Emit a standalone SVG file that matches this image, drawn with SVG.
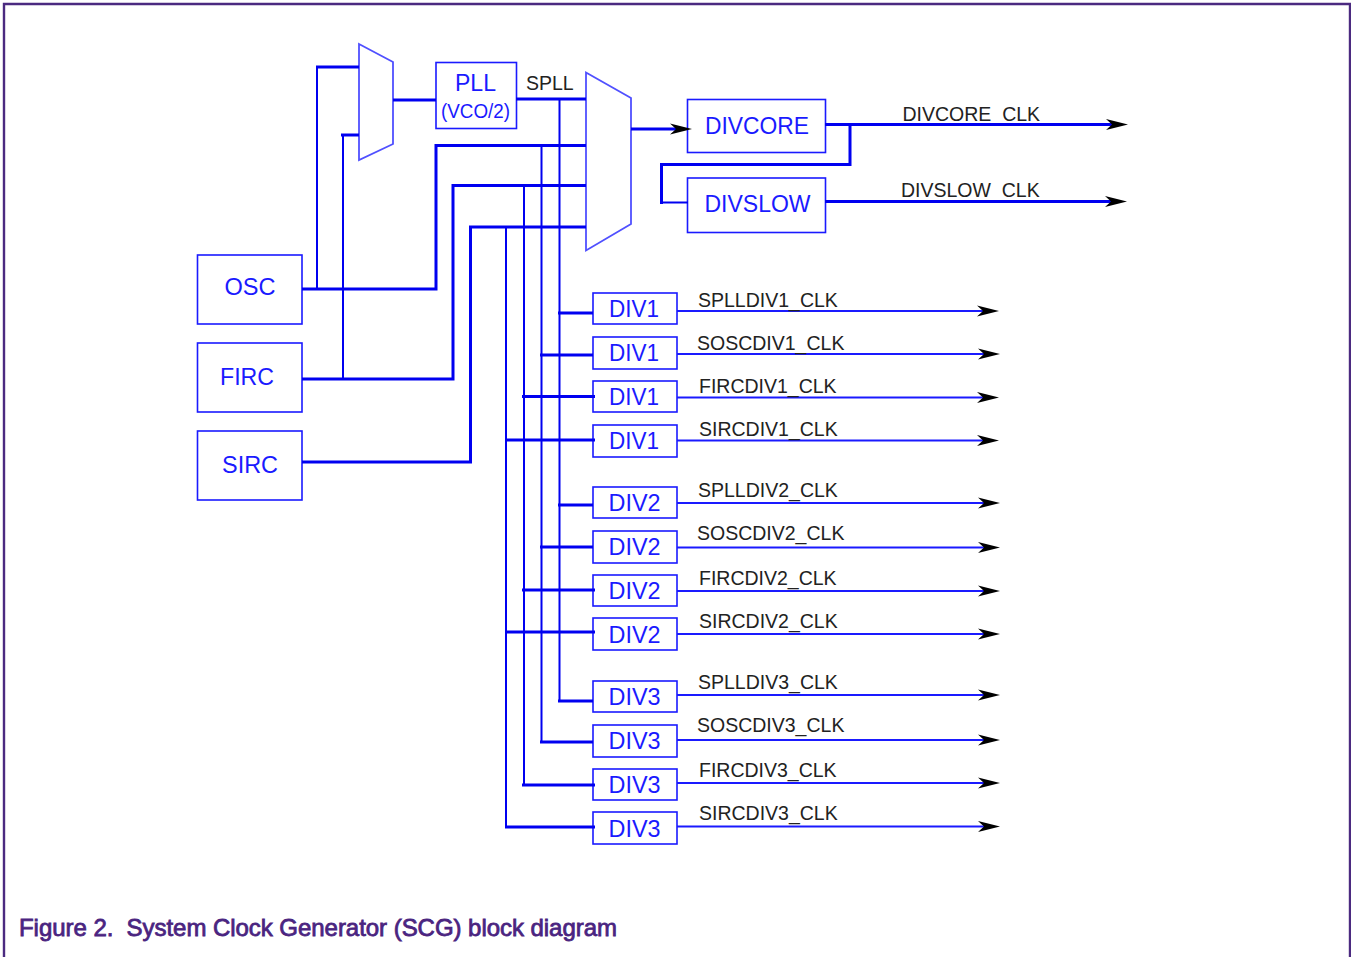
<svg xmlns="http://www.w3.org/2000/svg" width="1351" height="957" viewBox="0 0 1351 957">
<style>
.box{fill:#fff;stroke:#1a1aff;stroke-width:1.6}
.mux{fill:#fff;stroke:#5050ff;stroke-width:1.8}
.w{fill:none;stroke:#0000f0;stroke-width:2}
.t{fill:none;stroke:#0000f0;stroke-width:3}
.o{fill:none;stroke:#1a1aff;stroke-width:2}
.a{marker-end:url(#ah)}
text{font-family:"Liberation Sans",Arial,sans-serif}
.n{fill:#1a1aff;font-size:24.5px;text-anchor:middle}
.l{fill:#222;font-size:19.5px}
</style>
<defs>
<marker id="ah" markerUnits="userSpaceOnUse" markerWidth="24" markerHeight="12" refX="12" refY="6" orient="auto">
<path d="M0,0.5 L22,6 L0,11.500 L6,6 Z" fill="#000"/>
</marker>
</defs>
<rect width="1351" height="957" fill="#fff"/>
<path d="M4,957 V4 H1350 V957" fill="none" stroke="#4b2a80" stroke-width="2.4"/>

<g id="mux1"><polygon class="mux" points="359,44 393,62 393,144 359,160"/></g>
<g id="mux2"><polygon class="mux" points="586,72.5 631,98 631,224 586,250.5"/></g>
<g id="pll"><rect class="box" x="436" y="62.5" width="80.5" height="66"/>
<text class="n" x="475.5" y="90.500" textLength="41" lengthAdjust="spacingAndGlyphs">PLL</text><text x="475.5" y="118" style="fill:#1a1aff;font-size:20px;text-anchor:middle" textLength="69" lengthAdjust="spacingAndGlyphs">(VCO/2)</text></g>
<text class="l" x="526" y="90">SPLL</text>
<g id="osc"><rect class="box" x="197.5" y="255" width="104.5" height="69"/><text class="n" x="250" y="295" textLength="51" lengthAdjust="spacingAndGlyphs">OSC</text></g>
<g id="firc"><rect class="box" x="197.5" y="343" width="104.5" height="69"/><text class="n" x="247" y="385" textLength="54" lengthAdjust="spacingAndGlyphs">FIRC</text></g>
<g id="sirc"><rect class="box" x="197.5" y="431" width="104.5" height="69"/><text class="n" x="250" y="473" textLength="56" lengthAdjust="spacingAndGlyphs">SIRC</text></g>
<g id="divcore"><rect class="box" x="687.5" y="99.5" width="138" height="53"/><text class="n" x="757" y="133.500" textLength="104" lengthAdjust="spacingAndGlyphs">DIVCORE</text></g>
<g id="divslow"><rect class="box" x="687.5" y="178" width="138" height="54.5"/><text class="n" x="757.5" y="212" textLength="106" lengthAdjust="spacingAndGlyphs">DIVSLOW</text></g>
<text class="l" x="902.500" y="121">DIVCORE_CLK</text>
<text class="l" x="901" y="196.500">DIVSLOW_CLK</text>

<g id="div1a"><rect class="box" x="593" y="293" width="84" height="31"/><text class="n" x="634" y="316.500" textLength="50" lengthAdjust="spacingAndGlyphs">DIV1</text></g>
<g id="div1b"><rect class="box" x="593" y="337" width="84" height="32"/><text class="n" x="634" y="360.500" textLength="50" lengthAdjust="spacingAndGlyphs">DIV1</text></g>
<g id="div1c"><rect class="box" x="593" y="381" width="84" height="31"/><text class="n" x="634" y="404.500" textLength="50" lengthAdjust="spacingAndGlyphs">DIV1</text></g>
<g id="div1d"><rect class="box" x="593" y="425" width="84" height="32"/><text class="n" x="634" y="448.500" textLength="50" lengthAdjust="spacingAndGlyphs">DIV1</text></g>
<g id="div2a"><rect class="box" x="593" y="487" width="84" height="31"/><text class="n" x="634.500" y="510.500" textLength="52" lengthAdjust="spacingAndGlyphs">DIV2</text></g>
<g id="div2b"><rect class="box" x="593" y="531" width="84" height="32"/><text class="n" x="634.500" y="554.500" textLength="52" lengthAdjust="spacingAndGlyphs">DIV2</text></g>
<g id="div2c"><rect class="box" x="593" y="575" width="84" height="31"/><text class="n" x="634.500" y="598.500" textLength="52" lengthAdjust="spacingAndGlyphs">DIV2</text></g>
<g id="div2d"><rect class="box" x="593" y="618" width="84" height="32"/><text class="n" x="634.500" y="642.500" textLength="52" lengthAdjust="spacingAndGlyphs">DIV2</text></g>
<g id="div3a"><rect class="box" x="593" y="681" width="84" height="31"/><text class="n" x="634.500" y="704.500" textLength="52" lengthAdjust="spacingAndGlyphs">DIV3</text></g>
<g id="div3b"><rect class="box" x="593" y="725" width="84" height="32"/><text class="n" x="634.500" y="748.500" textLength="52" lengthAdjust="spacingAndGlyphs">DIV3</text></g>
<g id="div3c"><rect class="box" x="593" y="769" width="84" height="31"/><text class="n" x="634.500" y="792.500" textLength="52" lengthAdjust="spacingAndGlyphs">DIV3</text></g>
<g id="div3d"><rect class="box" x="593" y="812" width="84" height="32"/><text class="n" x="634.500" y="836.500" textLength="52" lengthAdjust="spacingAndGlyphs">DIV3</text></g>

<g id="connectors">
<path class="t" d="M302,289 H436 V145.5 H586"/>
<path class="w" d="M317,289 V67"/><path class="t" d="M316,67 H359"/>
<path class="w" d="M343,379 V135"/><path class="t" d="M341,135 H359"/>
<path class="t" d="M302,379 H453 V185.5 H586"/>
<path class="t" d="M302,462 H470.5 V227 H586"/>
<path class="t" d="M393,100 H436"/>
<path class="t" d="M516,99 H586"/>
<path class="w" d="M559.5,99 V702"/>
<path class="w" d="M541.5,145 V743"/>
<path class="w" d="M524,185 V786"/>
<path class="w" d="M506,227 V828"/>
<path class="t a" d="M631,129 H682"/>
<path class="t a" d="M825,124.5 H1118"/>
<path class="t" d="M850,124.5 V164.5 H661.5 V204"/>
<path class="w" d="M661,202.5 H688"/>
<path class="t a" d="M825,201.5 H1117"/>
<path class="t" d="M558,313 H593"/>
<path class="t" d="M540,355 H593"/>
<path class="t" d="M522,396.5 H595"/>
<path class="t" d="M505,440 H595"/>
<path class="t" d="M558,505 H593"/>
<path class="t" d="M540,547 H593"/>
<path class="t" d="M522,590 H595"/>
<path class="t" d="M505,632 H595"/>
<path class="t" d="M558,701 H593"/>
<path class="t" d="M540,742 H593"/>
<path class="t" d="M522,785 H595"/>
<path class="t" d="M505,827 H595"/>
<path class="o a" d="M677,311 H989"/>
<path class="o a" d="M677,354 H990"/>
<path class="o a" d="M677,397.5 H989"/>
<path class="o a" d="M677,440.5 H989"/>
<path class="o a" d="M677,503 H990"/>
<path class="o a" d="M677,547.5 H990"/>
<path class="o a" d="M677,591 H990"/>
<path class="o a" d="M677,634 H990"/>
<path class="o a" d="M677,695 H990"/>
<path class="o a" d="M677,740 H990"/>
<path class="o a" d="M677,783 H990"/>
<path class="o a" d="M677,826.5 H990"/>
</g>

<text class="l" x="698" y="307">SPLLDIV1_CLK</text>
<text class="l" x="697" y="350">SOSCDIV1_CLK</text>
<text class="l" x="699" y="393">FIRCDIV1_CLK</text>
<text class="l" x="699" y="436">SIRCDIV1_CLK</text>
<text class="l" x="698" y="497">SPLLDIV2_CLK</text>
<text class="l" x="697" y="540">SOSCDIV2_CLK</text>
<text class="l" x="699" y="585">FIRCDIV2_CLK</text>
<text class="l" x="699" y="628">SIRCDIV2_CLK</text>
<text class="l" x="698" y="689">SPLLDIV3_CLK</text>
<text class="l" x="697" y="732">SOSCDIV3_CLK</text>
<text class="l" x="699" y="777">FIRCDIV3_CLK</text>
<text class="l" x="699" y="820">SIRCDIV3_CLK</text>

<text x="19" y="936" style="fill:#4a2480;font-size:24px;stroke:#4a2480;stroke-width:.8" textLength="598" xml:space="preserve">Figure 2.  System Clock Generator (SCG) block diagram</text>
</svg>
